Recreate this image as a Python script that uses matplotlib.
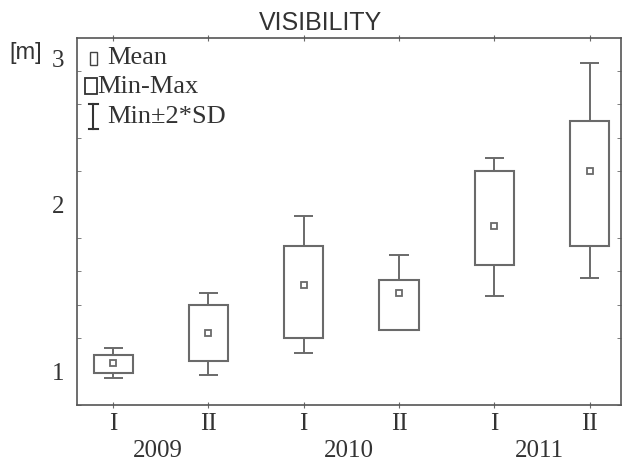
import matplotlib
matplotlib.use("Agg")
import matplotlib.pyplot as plt
import matplotlib.transforms as mtransforms
from matplotlib.patches import Rectangle
from matplotlib.ticker import MultipleLocator

# values
halves = ['I', 'II', 'I', 'II', 'I', 'II']
years = ['2009', '2010', '2011']
mean = [1.05, 1.23, 1.52, 1.47, 1.87, 2.20]
vmin = [0.99, 1.06, 1.20, 1.25, 1.64, 1.75]
vmax = [1.10, 1.40, 1.75, 1.55, 2.20, 2.50]
sd_lo = [0.96, 0.98, 1.11, 1.25, 1.45, 1.56]
sd_hi = [1.14, 1.47, 1.93, 1.70, 2.28, 2.85]
yticks = [1, 2, 3]
ytick_labels = ['1', '2', '3']

serif = 'Liberation Serif'
sans = 'Liberation Sans'
grey = '#6a6a6a'

fig = plt.figure(figsize=(6.24, 4.61), dpi=100)
ax = fig.add_axes([77 / 624, 1 - 404.7 / 461, 544 / 624, 367.1 / 461])

x = list(range(1, len(mean) + 1))

# whiskers (drawn under the boxes)
ax.vlines(x, vmax, sd_hi, color=grey, lw=1.4)
ax.vlines(x, sd_lo, vmin, color=grey, lw=1.4)
ax.hlines(sd_hi, [i - 0.1 for i in x], [i + 0.1 for i in x], color=grey, lw=1.4)
ax.hlines(sd_lo, [i - 0.1 for i in x], [i + 0.1 for i in x], color=grey, lw=1.4)

# min-max boxes
heights = [hi - lo for lo, hi in zip(vmin, vmax)]
ax.bar(x, heights, bottom=vmin, width=0.41, facecolor='white',
       edgecolor=grey, linewidth=1.5, zorder=3)

# means
ax.plot(x, mean, ls='none', marker='s', ms=5, mfc='white', mec=grey,
        mew=1.3, zorder=4)

ax.set_xlim(0.62, 6.33)
ax.set_ylim(0.8, 3.0)

ax.set_xticks(x)
ax.set_xticklabels(halves, fontfamily=serif, fontsize=18)
ax.set_yticks(yticks)
ax.set_yticklabels(ytick_labels, fontfamily=serif, fontsize=18)
ax.yaxis.set_minor_locator(MultipleLocator(0.2))

ax.tick_params(axis='x', which='both', direction='inout', length=4,
               color=grey, pad=4, top=True)
ax.tick_params(axis='y', which='both', direction='in', length=3,
               color=grey, pad=9, right=True)
ax.tick_params(axis='y', which='major', length=0)

# the "3" label sits lower than its tick in the original
lab3 = ax.get_yticklabels()[2]
lab3.set_transform(lab3.get_transform() +
                   mtransforms.ScaledTranslation(0, -0.21, fig.dpi_scale_trans))

for s in ax.spines.values():
    s.set_color('#555555')
    s.set_linewidth(1.2)

# year labels under each pair
trans = mtransforms.blended_transform_factory(ax.transData, ax.transAxes)
for k, yr in enumerate(years):
    ax.text(2 * k + 1.47, -0.126, yr, transform=trans, ha='center',
            va='center', fontfamily=serif, fontsize=18, color='#333333')

# legend drawn by hand in the top-left corner
ax.add_patch(Rectangle((0.0244, 0.925), 0.0125, 0.036, transform=ax.transAxes,
                       fill=False, ec='#444444', lw=1.0))
ax.text(0.0551, 0.944, 'Mean', transform=ax.transAxes, va='center',
        fontfamily=serif, fontsize=19, color='#333333')
ax.add_patch(Rectangle((0.0147, 0.846), 0.0215, 0.045, transform=ax.transAxes,
                       fill=False, ec='#333333', lw=1.3))
ax.text(0.0368, 0.866, 'Min-Max', transform=ax.transAxes, va='center',
        fontfamily=serif, fontsize=19, color='#333333')
ax.plot([0.0303, 0.0303], [0.752, 0.820], transform=ax.transAxes,
        color='#333333', lw=1.5)
ax.plot([0.022, 0.039], [0.820, 0.820], transform=ax.transAxes,
        color='#333333', lw=1.5)
ax.plot([0.022, 0.039], [0.752, 0.752], transform=ax.transAxes,
        color='#333333', lw=1.5)
ax.text(0.0551, 0.783, 'Min\u00b12*SD', transform=ax.transAxes, va='center',
        fontfamily=serif, fontsize=19, color='#333333')

fig.text(321 / 624, 1 - 30 / 461, 'VISIBILITY', ha='center', va='baseline',
         fontfamily=sans, fontsize=18, color='#333333')
fig.text(9 / 624, 1 - 53 / 461, '[m]', ha='left', va='center',
         fontfamily=sans, fontsize=17, color='#333333')

for lab in ax.get_xticklabels() + ax.get_yticklabels():
    lab.set_color('#333333')

fig.savefig('out.png', dpi=100)
